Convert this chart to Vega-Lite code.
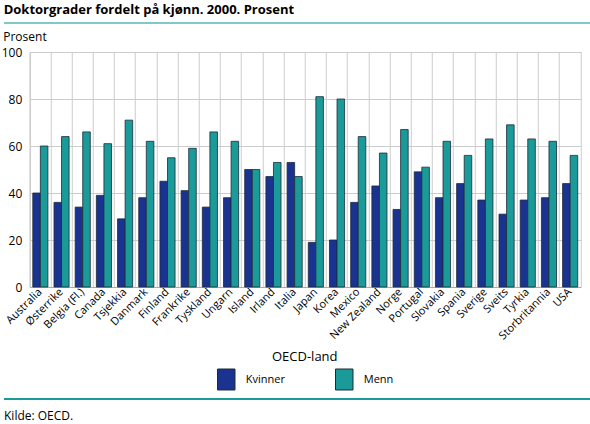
{
  "$schema": "https://vega.github.io/schema/vega-lite/v6.json",
  "padding": {"left": 0, "top": 4, "right": 0, "bottom": 2},
  "title": {
    "text": "Doktorgrader fordelt på kjønn. 2000. Prosent",
    "anchor": "start",
    "frame": "bounds",
    "dx": 3,
    "font": "Open Sans",
    "fontSize": 13,
    "fontWeight": "bold",
    "color": "black",
    "offset": 5
  },
  "config": {
    "font": "Open Sans",
    "view": {"stroke": null},
    "legend": {"layout": {"bottom": {"anchor": "middle"}}}
  },
  "data": {
    "values": [
      {"land": "Australia", "kjonn": "Kvinner", "prosent": 40}, {"land": "Australia", "kjonn": "Menn", "prosent": 60},
      {"land": "Østerrike", "kjonn": "Kvinner", "prosent": 36}, {"land": "Østerrike", "kjonn": "Menn", "prosent": 64},
      {"land": "Belgia (Fl.)", "kjonn": "Kvinner", "prosent": 34}, {"land": "Belgia (Fl.)", "kjonn": "Menn", "prosent": 66},
      {"land": "Canada", "kjonn": "Kvinner", "prosent": 39}, {"land": "Canada", "kjonn": "Menn", "prosent": 61},
      {"land": "Tsjekkia", "kjonn": "Kvinner", "prosent": 29}, {"land": "Tsjekkia", "kjonn": "Menn", "prosent": 71},
      {"land": "Danmark", "kjonn": "Kvinner", "prosent": 38}, {"land": "Danmark", "kjonn": "Menn", "prosent": 62},
      {"land": "Finland", "kjonn": "Kvinner", "prosent": 45}, {"land": "Finland", "kjonn": "Menn", "prosent": 55},
      {"land": "Frankrike", "kjonn": "Kvinner", "prosent": 41}, {"land": "Frankrike", "kjonn": "Menn", "prosent": 59},
      {"land": "Tyskland", "kjonn": "Kvinner", "prosent": 34}, {"land": "Tyskland", "kjonn": "Menn", "prosent": 66},
      {"land": "Ungarn", "kjonn": "Kvinner", "prosent": 38}, {"land": "Ungarn", "kjonn": "Menn", "prosent": 62},
      {"land": "Island", "kjonn": "Kvinner", "prosent": 50}, {"land": "Island", "kjonn": "Menn", "prosent": 50},
      {"land": "Irland", "kjonn": "Kvinner", "prosent": 47}, {"land": "Irland", "kjonn": "Menn", "prosent": 53},
      {"land": "Italia", "kjonn": "Kvinner", "prosent": 53}, {"land": "Italia", "kjonn": "Menn", "prosent": 47},
      {"land": "Japan", "kjonn": "Kvinner", "prosent": 19}, {"land": "Japan", "kjonn": "Menn", "prosent": 81},
      {"land": "Korea", "kjonn": "Kvinner", "prosent": 20}, {"land": "Korea", "kjonn": "Menn", "prosent": 80},
      {"land": "Mexico", "kjonn": "Kvinner", "prosent": 36}, {"land": "Mexico", "kjonn": "Menn", "prosent": 64},
      {"land": "New Zealand", "kjonn": "Kvinner", "prosent": 43}, {"land": "New Zealand", "kjonn": "Menn", "prosent": 57},
      {"land": "Norge", "kjonn": "Kvinner", "prosent": 33}, {"land": "Norge", "kjonn": "Menn", "prosent": 67},
      {"land": "Portugal", "kjonn": "Kvinner", "prosent": 49}, {"land": "Portugal", "kjonn": "Menn", "prosent": 51},
      {"land": "Slovakia", "kjonn": "Kvinner", "prosent": 38}, {"land": "Slovakia", "kjonn": "Menn", "prosent": 62},
      {"land": "Spania", "kjonn": "Kvinner", "prosent": 44}, {"land": "Spania", "kjonn": "Menn", "prosent": 56},
      {"land": "Sverige", "kjonn": "Kvinner", "prosent": 37}, {"land": "Sverige", "kjonn": "Menn", "prosent": 63},
      {"land": "Sveits", "kjonn": "Kvinner", "prosent": 31}, {"land": "Sveits", "kjonn": "Menn", "prosent": 69},
      {"land": "Tyrkia", "kjonn": "Kvinner", "prosent": 37}, {"land": "Tyrkia", "kjonn": "Menn", "prosent": 63},
      {"land": "Storbritannia", "kjonn": "Kvinner", "prosent": 38}, {"land": "Storbritannia", "kjonn": "Menn", "prosent": 62},
      {"land": "USA", "kjonn": "Kvinner", "prosent": 44}, {"land": "USA", "kjonn": "Menn", "prosent": 56}
    ]
  },
  "center": true,
  "spacing": 5,
  "resolve": {"scale": {"color": "independent"}, "legend": {"color": "independent"}},
  "vconcat": [
    {
      "width": 602,
      "height": 1,
      "mark": {"type": "rule", "color": "#7fcac8", "strokeWidth": 2},
      "transform": [{"filter": "datum.land === 'Australia' && datum.kjonn === 'Kvinner'"}],
      "encoding": {"y": {"datum": 0, "type": "quantitative", "axis": null}}
    },
    {
      "width": 551,
      "height": 235,
      "view": {"stroke": "#cccccc"},
      "mark": {"type": "bar", "stroke": "#1d2b38", "strokeWidth": 0.8},
      "encoding": {
        "x": {
          "field": "land",
          "type": "nominal",
          "sort": null,
          "scale": {"paddingInner": 0, "paddingOuter": 0},
          "axis": {
            "title": null,
            "labelAngle": -45,
            "labelAlign": "right",
            "labelBaseline": "middle",
            "labelFontSize": 11,
            "labelColor": "black",
            "labelPadding": 3,
            "ticks": false,
            "grid": true,
            "bandPosition": 0,
            "gridColor": "#cccccc",
            "domainColor": "#aaaaaa"
          }
        },
        "xOffset": {
          "field": "kjonn",
          "scale": {"paddingInner": 0, "paddingOuter": 0.4}
        },
        "y": {
          "field": "prosent",
          "type": "quantitative",
          "scale": {"domain": [0, 100]},
          "axis": {
            "title": "Prosent",
            "titleAngle": 0,
            "titleAlign": "left",
            "titleAnchor": "end",
            "titleBaseline": "alphabetic",
            "titleX": -27,
            "titleY": -12,
            "titleFontSize": 12,
            "titleFontWeight": "normal",
            "titleColor": "black",
            "values": [0, 20, 40, 60, 80, 100],
            "labelFontSize": 12,
            "labelColor": "black",
            "labelPadding": 8,
            "ticks": false,
            "gridColor": "#cccccc",
            "domainColor": "#cccccc"
          }
        },
        "color": {
          "field": "kjonn",
          "type": "nominal",
          "scale": {"domain": ["Kvinner", "Menn"], "range": ["#1a3391", "#1a9a98"]},
          "legend": {
            "title": "OECD-land",
            "orient": "bottom",
            "direction": "horizontal",
            "offset": 9,
            "titleAnchor": "middle",
            "titleFontSize": 13,
            "titleFontWeight": "normal",
            "titleColor": "black",
            "titlePadding": 6,
            "labelFontSize": 11,
            "labelColor": "black",
            "labelOffset": 10,
            "columnPadding": 47,
            "symbolType": "M-1,-1.2L1,-1.2L1,1.2L-1,1.2Z",
            "symbolSize": 306,
            "symbolStrokeColor": "#1d2b38",
            "symbolStrokeWidth": 1,
            "symbolOpacity": 1
          }
        }
      }
    },
    {
      "width": 602,
      "height": 1,
      "title": {
        "text": "Kilde: OECD.",
        "orient": "bottom",
        "anchor": "start",
        "frame": "group",
        "fontSize": 12,
        "fontWeight": "normal",
        "color": "black",
        "offset": 11
      },
      "mark": {"type": "rule", "color": "#1a9a98", "strokeWidth": 2},
      "transform": [{"filter": "datum.land === 'Australia' && datum.kjonn === 'Kvinner'"}],
      "encoding": {"y": {"datum": 0, "type": "quantitative", "axis": null}}
    }
  ]
}
